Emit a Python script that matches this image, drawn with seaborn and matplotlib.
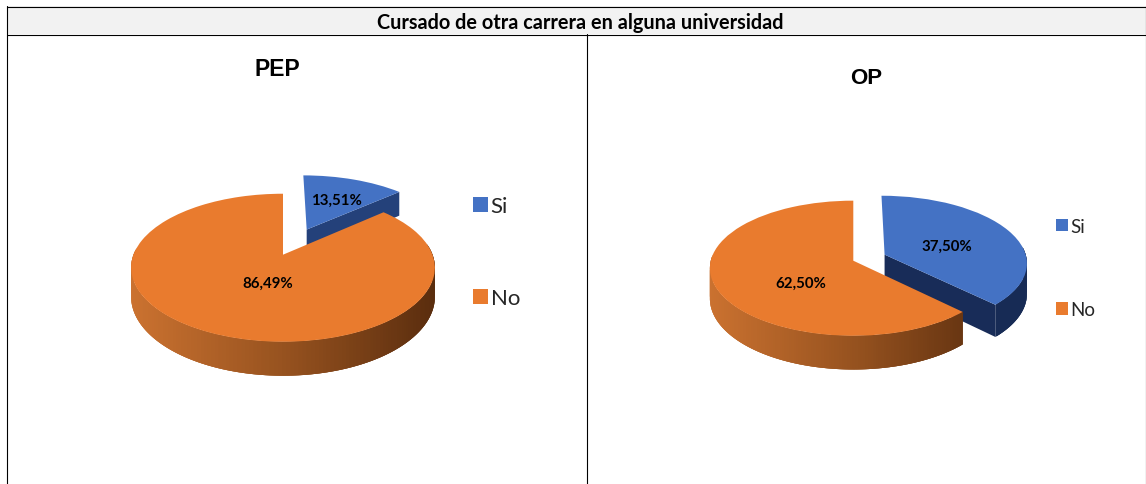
import numpy as np
import seaborn as sns
import matplotlib.pyplot as plt
from matplotlib.transforms import Transform

# ------------------------------------------
# Data
# ------------------------------------------
title = "Cursado de otra carrera en alguna universidad"
categories = ["Si", "No"]
pep_values = [13.51, 86.49]
op_values = [37.50, 62.50]

blue = "#4472C4"
orange = "#E97B2E"
rim_orange = ["#CB7230", "#96521F", "#5A2D0E"]
rim_blue = ["#2A4A86", "#1F3A70", "#172B55"]

sns.set_theme(style="white")
plt.rcParams["font.family"] = ["Lato", "DejaVu Sans"]


# tilted disc: pie coordinates -> pixels of the picture
class TiltedDisc(Transform):
    input_dims = 2
    output_dims = 2
    is_separable = False

    def __init__(self, cx, cy, rx, ry, k):
        super().__init__()
        self.cx, self.cy, self.rx, self.ry, self.k = cx, cy, rx, ry, k

    def transform_non_affine(self, values):
        values = np.asarray(values, dtype=float)
        w = 1 + self.k * values[:, 1]
        return np.column_stack([self.cx + self.rx * values[:, 0] / w,
                                self.cy - self.ry * values[:, 1] / w])


def draw_pie(ax, values, explode_si, disc, depth, cut_color, label_pos, legend_xy, legend_size, spacing, pad):
    wedges, _ = ax.pie(values, explode=[explode_si, 0], colors=[blue, orange],
                       startangle=90, counterclock=False,
                       wedgeprops={"linewidth": 0, "edgecolor": "none"})
    ax.set(xlim=(0, 1146), ylim=(485, 0), aspect="auto")
    ax.set_position([0, 0, 1, 1])

    left_x = disc.cx - disc.rx * 1.02
    right_x = disc.cx + disc.rx * 1.02
    for i, wedge in enumerate(wedges):
        colors = rim_blue if i == 0 else rim_orange
        cmap = sns.blend_palette(colors, as_cmap=True)
        t = np.radians(np.linspace(wedge.theta1, wedge.theta2, 240))
        pts = np.column_stack([wedge.center[0] + np.cos(t), wedge.center[1] + np.sin(t)])
        if i == 0:
            # the cut side of the exploded slice, between centre and slice end
            end_pt = pts[0] if pts[0, 1] < pts[-1, 1] else pts[-1]
            cut = np.array([wedge.center, end_pt])
            top = disc.transform_non_affine(cut)
            drop = depth / (1 + disc.k * cut[:, 1])
            ax.fill(list(top[:, 0]) + list(top[::-1, 0]),
                    list(top[:, 1]) + list((top[:, 1] + drop)[::-1]),
                    color=cut_color, lw=0, zorder=1)
        top = disc.transform_non_affine(pts)
        bottom = top[:, 1] + depth / (1 + disc.k * pts[:, 1])
        # strips overlap a little so no seams show between them
        for j in range(len(pts) - 1):
            # the back half of the rim is hidden behind the top face
            if np.sin(t[j]) > 0.1:
                continue
            k = min(j + 4, len(pts))
            shade = cmap(np.clip((top[j, 0] - left_x) / (right_x - left_x), 0, 1))
            ax.fill(list(top[j:k, 0]) + list(top[j:k, 0][::-1]),
                    list(top[j:k, 1]) + list(bottom[j:k][::-1]),
                    color=shade, lw=0, zorder=1 + 2 * i)
        wedge.set_transform(disc + ax.transData)
        wedge.set_zorder(2 + 2 * i)
        ax.text(label_pos[i][0], label_pos[i][1], f"{values[i]:.2f}%".replace(".", ","),
                ha="center", va="center", fontsize=10.8, fontweight="bold",
                color="black", zorder=6)

    ax.legend(wedges, categories, loc="center left", bbox_to_anchor=legend_xy,
              bbox_transform=ax.transData, frameon=False, fontsize=legend_size,
              handlelength=0.66, handleheight=0.66, handletextpad=pad,
              labelspacing=spacing, borderpad=0, borderaxespad=0, labelcolor="#262626")


# ------------------------------------------
# Figure and table frame
# ------------------------------------------
fig = plt.figure(figsize=(11.46, 4.85), dpi=100)
frame = fig.add_axes([0, 0, 1, 1])
frame.set(xlim=(0, 1146), ylim=(485, 0))
frame.axis("off")
frame.fill_between([7, 1146], 7, 35, color="#F2F2F2", lw=0)
frame.plot([7, 1146], [7.5, 7.5], color="black", lw=0.8)
frame.plot([7, 1146], [35.5, 35.5], color="black", lw=0.8)
frame.plot([7, 7], [7, 485], color="black", lw=0.8)
frame.plot([587, 587], [35, 485], color="black", lw=0.8)
frame.plot([1145.5, 1145.5], [7, 485], color="black", lw=0.8)
frame.text(580, 23, title, ha="center", va="center", fontsize=14.3, fontweight="bold", color="black")
frame.text(277, 70, "PEP", ha="center", va="center", fontsize=16.5,
           fontweight="bold", family="Liberation Sans", color="black")
frame.text(866, 79, "OP", ha="center", va="center", fontsize=16,
           fontweight="bold", family="Liberation Sans", color="black")

# ------------------------------------------
# Pies
# ------------------------------------------
ax_pep = fig.add_axes([0, 0, 1, 1])
ax_pep.patch.set_alpha(0)
draw_pie(ax_pep, pep_values, 0.41, TiltedDisc(283, 255.7, 149.5, 71.7, 0.176), 28, "#24417A",
         [(336, 201), (268, 284)], (473, 253.5), 16, 3.24, 0.14)

ax_op = fig.add_axes([0, 0, 1, 1])
ax_op.patch.set_alpha(0)
draw_pie(ax_op, op_values, 0.24, TiltedDisc(853.3, 261.7, 142.5, 66.7, 0.111), 30, "#182C58",
         [(947, 247), (801, 284)], (1056, 269), 13.5, 3.55, 0.1)

plt.savefig("out.png", dpi=100)
